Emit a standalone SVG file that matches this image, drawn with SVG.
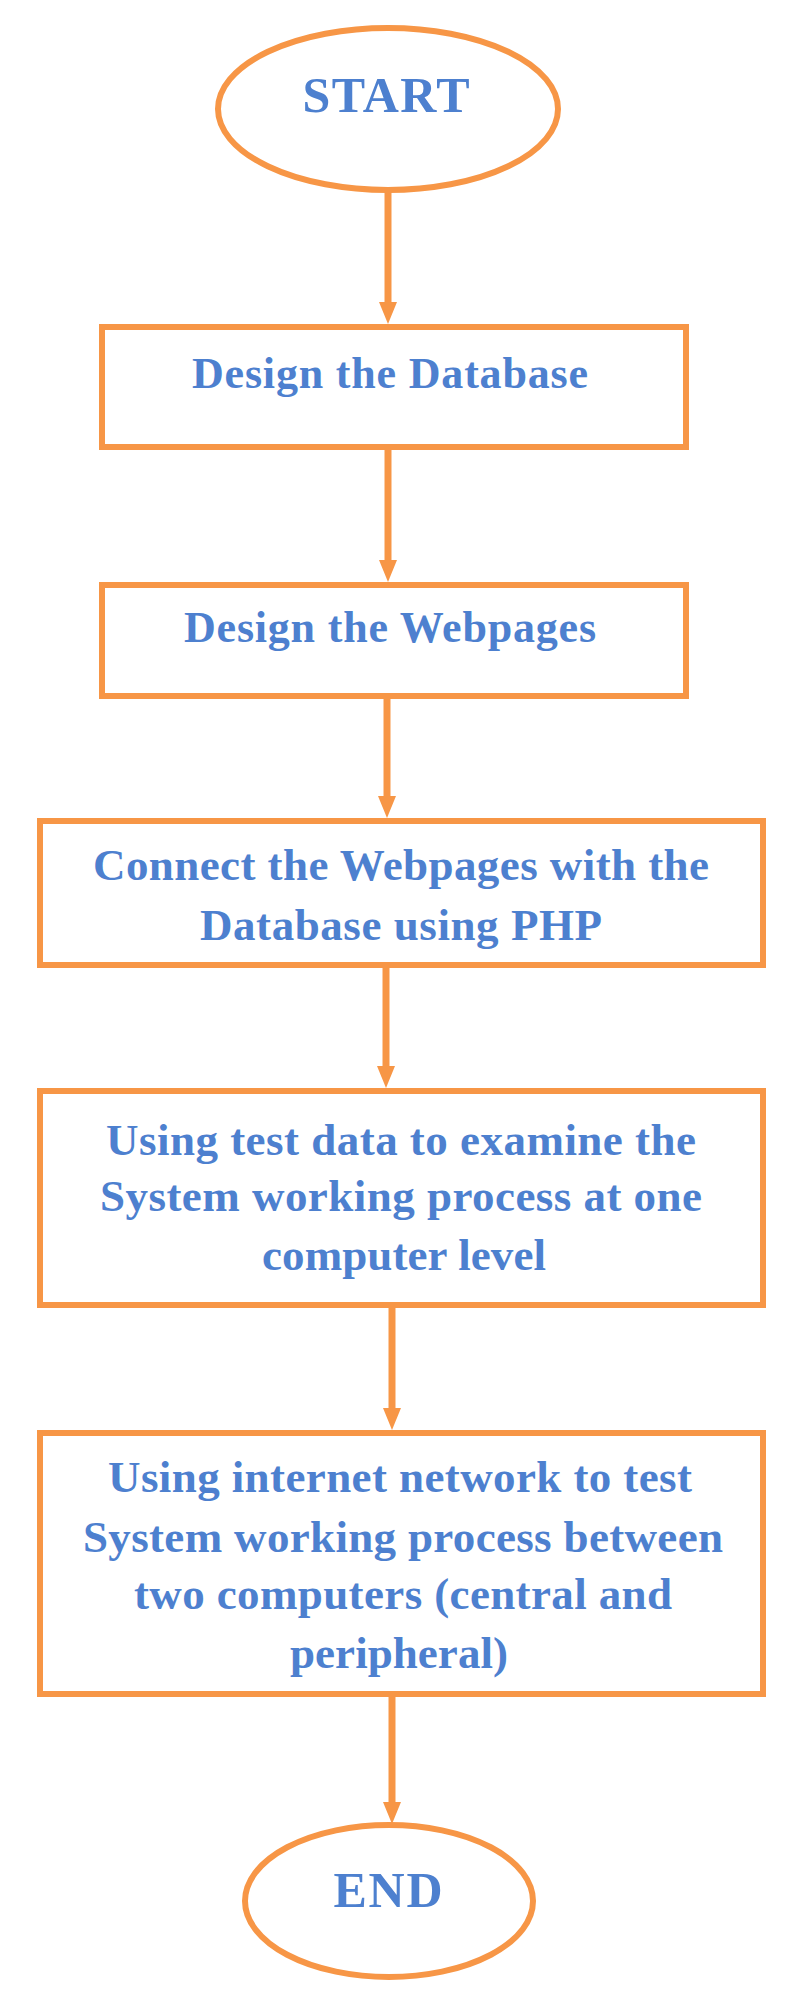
<svg xmlns="http://www.w3.org/2000/svg" width="800" height="1992" viewBox="0 0 800 1992">
  <style>
    .shape { fill: #FFFFFF; stroke: #F79646; stroke-width: 6; }
    .conn { stroke: #F79646; stroke-width: 7; fill: none; }
    .label { font-family: "Liberation Serif", "DejaVu Serif", serif; font-weight: bold; fill: #4D80CF; text-anchor: middle; }
    .t44 { font-size: 44px; }
    .t45 { font-size: 45px; }
    .t50 { font-size: 50px; }
  </style>
  <defs>
    <marker id="ah" markerUnits="userSpaceOnUse" markerWidth="24" markerHeight="20" refX="10" refY="10" orient="auto">
      <path d="M0,1 L22,10 L0,19 Z" fill="#F79646"/>
    </marker>
  </defs>
  <rect x="0" y="0" width="800" height="1992" fill="#FFFFFF"/>

  <g id="connectors">
    <line class="conn" x1="388" y1="190" x2="388" y2="312" marker-end="url(#ah)"/>
    <line class="conn" x1="388" y1="449" x2="388" y2="570" marker-end="url(#ah)"/>
    <line class="conn" x1="387" y1="699" x2="387" y2="806" marker-end="url(#ah)"/>
    <line class="conn" x1="386" y1="968" x2="386" y2="1076" marker-end="url(#ah)"/>
    <line class="conn" x1="392" y1="1308" x2="392" y2="1418" marker-end="url(#ah)"/>
    <line class="conn" x1="392" y1="1696" x2="392" y2="1812" marker-end="url(#ah)"/>
  </g>

  <g id="start">
    <ellipse class="shape" cx="388" cy="109" rx="170" ry="81" stroke-width="5"/>
    <text class="label t50" x="386" y="112" textLength="167" lengthAdjust="spacing">START</text>
  </g>

  <g id="design-database">
    <rect class="shape" x="102" y="327" width="584" height="120"/>
    <text class="label t44" x="390" y="388" textLength="396" lengthAdjust="spacing">Design the Database</text>
  </g>

  <g id="design-webpages">
    <rect class="shape" x="102" y="585" width="584" height="111"/>
    <text class="label t44" x="390" y="642" textLength="412" lengthAdjust="spacing">Design the Webpages</text>
  </g>

  <g id="connect-php">
    <rect class="shape" x="40" y="821" width="723" height="144"/>
    <text class="label t45" x="401" y="880" textLength="616" lengthAdjust="spacing">Connect the Webpages with the</text>
    <text class="label t45" x="401" y="940" textLength="402" lengthAdjust="spacing">Database using PHP</text>
  </g>

  <g id="test-one-computer">
    <rect class="shape" x="40" y="1091" width="723" height="214"/>
    <text class="label t45" x="401" y="1155" textLength="590" lengthAdjust="spacing">Using test data to examine the</text>
    <text class="label t45" x="401" y="1211" textLength="602" lengthAdjust="spacing">System working process at one</text>
    <text class="label t45" x="404" y="1270" textLength="284" lengthAdjust="spacing">computer level</text>
  </g>

  <g id="test-two-computers">
    <rect class="shape" x="40" y="1433" width="723" height="261"/>
    <text class="label t45" x="400" y="1492" textLength="584" lengthAdjust="spacing">Using internet network to test</text>
    <text class="label t45" x="403" y="1552" textLength="640" lengthAdjust="spacing">System working process between</text>
    <text class="label t45" x="403" y="1609" textLength="538" lengthAdjust="spacing">two computers (central and</text>
    <text class="label t45" x="399" y="1668" textLength="218" lengthAdjust="spacing">peripheral)</text>
  </g>

  <g id="end">
    <ellipse class="shape" cx="389" cy="1901" rx="144" ry="76" stroke-width="5"/>
    <text class="label t50" x="388" y="1907" textLength="109" lengthAdjust="spacing">END</text>
  </g>
</svg>
